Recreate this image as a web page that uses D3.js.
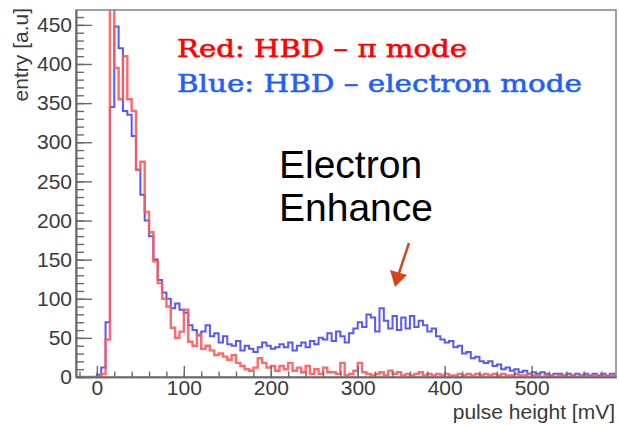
<!DOCTYPE html>
<html>
<head>
<meta charset="utf-8">
<script src="https://cdn.jsdelivr.net/npm/d3@7"></script>
<style>
  body { margin: 0; background: white; }
</style>
</head>
<body>
<div id="container"></div>
<script>
let w = 619;
let h = 425;

// histogram binning (mV)
let binLow = -25;
let binWidth = 5;

// red: HBD pi mode, one value per 5 mV bin starting at -25
let redVals = [
  0, 0, 0, 0, 0, 0, 4, 48, 520, 395,
  355, 410, 355, 340, 265, 275, 211, 185, 148, 120,
  100, 90, 63, 50, 58, 86, 45, 40, 54, 36,
  40, 34, 28, 30, 26, 22, 28, 18, 14, 10,
  8, 12, 24, 18, 12, 14, 8, 14, 10, 18,
  8, 12, 6, 14, 4, 10, 4, 12, 6, 6,
  4, 18, 2, 4, 8, 18, 6, 4, 2, 4,
  6, 2, 8, 4, 6, 2, 4, 2, 4, 6,
  2, 4, 2, 4, 2, 4, 2, 2, 4, 2,
  4, 2, 4, 2, 4, 2, 4, 2, 4, 2,
  2, 4, 2, 2, 4, 2, 2, 0, 2, 2,
  0, 2, 2, 0, 2, 0, 2, 2, 0, 2,
  0, 2, 0, 2, 0
];

// blue: HBD electron mode
let blueVals = [
  0, 0, 0, 0, 0, 3, 12, 70, 345, 448,
  420, 340, 335, 308, 265, 233, 200, 180, 150, 124,
  108, 100, 88, 94, 86, 82, 66, 60, 53, 58,
  66, 52, 56, 44, 52, 42, 40, 46, 34, 40,
  36, 32, 38, 44, 40, 36, 38, 42, 38, 44,
  34, 40, 44, 38, 46, 42, 50, 48, 56, 46,
  58, 52, 44, 56, 62, 70, 64, 80, 76, 58,
  88, 72, 62, 78, 60, 76, 62, 78, 64, 72,
  66, 58, 62, 52, 48, 44, 46, 38, 40, 30,
  32, 24, 26, 20, 18, 20, 14, 16, 10, 12,
  8, 10, 6, 8, 4, 6, 4, 6, 4, 2,
  4, 4, 2, 4, 2, 4, 2, 4, 2, 4,
  2, 4, 2, 4, 2
];

let yMajor = [0, 50, 100, 150, 200, 250, 300, 350, 400, 450];
let xMajor = [0, 100, 200, 300, 400, 500];

let legendLines = ["Red: HBD \u2013 \u03c0 mode", "Blue: HBD \u2013 electron mode"];
let noteLines = ["Electron", "Enhance"];

let frame = { left: 76, right: 616, top: 10, bottom: 377 };

let viz = d3.select("#container")
  .append("svg")
    .attr("width", w)
    .attr("height", h)
    .style("background-color", "white")
;

let xScale = d3.scaleLinear().domain([-24, 597]).range([frame.left, frame.right]);
let yScale = d3.scaleLinear().domain([0, 469]).range([frame.bottom, frame.top]);

viz.append("clipPath").attr("id", "frameclip")
  .append("rect")
    .attr("x", frame.left)
    .attr("y", frame.top)
    .attr("width", frame.right - frame.left)
    .attr("height", frame.bottom - frame.top)
;

// turn bins into step points (left edge of each bin + closing edge)
function stepPoints(vals){
  let pts = vals.map(function(v, i){
    return [binLow + i * binWidth, v];
  });
  pts.push([binLow + vals.length * binWidth, vals[vals.length - 1]]);
  return pts;
}

let histLine = d3.line()
  .x(function(d){ return xScale(d[0]); })
  .y(function(d){ return yScale(d[1]); })
  .curve(d3.curveStepAfter)
;

let hists = viz.append("g").attr("clip-path", "url(#frameclip)");

hists.append("path")
  .attr("d", histLine(stepPoints(blueVals)))
  .attr("fill", "none")
  .attr("stroke", "#5858ff")
  .attr("stroke-width", 2)
;

hists.append("path")
  .attr("d", histLine(stepPoints(redVals)))
  .attr("fill", "none")
  .attr("stroke", "#ff5a5a")
  .attr("stroke-opacity", 0.9)
  .attr("stroke-width", 2.4)
;

// frame
viz.append("rect")
  .attr("x", frame.left)
  .attr("y", frame.top)
  .attr("width", frame.right - frame.left)
  .attr("height", frame.bottom - frame.top)
  .attr("fill", "none")
  .attr("stroke", "#8a8a8a")
  .attr("stroke-width", 1.6)
;

// y axis, ticks pointing inwards like ROOT
let yAxis = d3.axisLeft(yScale)
  .tickValues(yMajor)
  .tickSizeInner(-16)
  .tickSizeOuter(0)
  .tickPadding(4)
;
let yMinor = d3.axisLeft(yScale)
  .tickValues(d3.range(0, 470, 10))
  .tickSizeInner(-8)
  .tickSizeOuter(0)
  .tickFormat("")
;
viz.append("g").attr("transform", "translate(" + frame.left + ",0)").call(yAxis);
viz.append("g").attr("transform", "translate(" + frame.left + ",0)").call(yMinor);

let xAxis = d3.axisBottom(xScale)
  .tickValues(xMajor)
  .tickSizeInner(-11)
  .tickSizeOuter(0)
  .tickPadding(3)
;
let xMinor = d3.axisBottom(xScale)
  .tickValues(d3.range(-20, 600, 20))
  .tickSizeInner(-5.5)
  .tickSizeOuter(0)
  .tickFormat("")
;
viz.append("g").attr("transform", "translate(0," + frame.bottom + ")").call(xAxis);
viz.append("g").attr("transform", "translate(0," + frame.bottom + ")").call(xMinor);

viz.selectAll(".domain").attr("stroke", "#6a6a6a").attr("stroke-width", 1.6);
viz.selectAll(".tick line").attr("stroke", "#6a6a6a").attr("stroke-width", 1.4);
viz.selectAll(".tick text")
  .attr("fill", "#3a3a3a")
  .style("font-family", "'Liberation Sans', Arial, sans-serif")
  .style("font-size", "21px")
;

// axis titles
viz.append("text")
  .attr("transform", "translate(28,8) rotate(-90)")
  .attr("text-anchor", "end")
  .attr("fill", "#3a3a3a")
  .style("font-family", "'Liberation Sans', Arial, sans-serif")
  .style("font-size", "21px")
  .text("entry [a.u]")
;

viz.append("text")
  .attr("x", 615)
  .attr("y", 419)
  .attr("text-anchor", "end")
  .attr("fill", "#3a3a3a")
  .style("font-family", "'Liberation Sans', Arial, sans-serif")
  .style("font-size", "21px")
  .text("pulse height [mV]")
;

// legend text (slab-ish serif, a touch heavier than regular)
let legendColors = ["#ff0000", "#1f5fff"];
let legendLengths = [290, 405];
viz.selectAll(".legend").data(legendLines).enter()
  .append("text")
    .attr("class", "legend")
    .attr("x", 177)
    .attr("y", function(d, i){ return 57 + i * 35; })
    .attr("fill", function(d, i){ return legendColors[i]; })
    .attr("stroke", function(d, i){ return legendColors[i]; })
    .attr("stroke-width", 0.6)
    .attr("textLength", function(d, i){ return legendLengths[i]; })
    .attr("lengthAdjust", "spacingAndGlyphs")
    .style("font-family", "'DejaVu Serif', serif")
    .style("font-size", "25px")
    .text(function(d){ return d; })
;

// annotation
viz.selectAll(".note").data(noteLines).enter()
  .append("text")
    .attr("class", "note")
    .attr("x", 279)
    .attr("y", function(d, i){ return 178 + i * 43; })
    .attr("fill", "black")
    .style("font-family", "'Liberation Sans', Arial, sans-serif")
    .style("font-size", "39px")
    .text(function(d){ return d; })
;

// arrow pointing at the electron bump
let arrowColor = "#d4461c";
viz.append("line")
  .attr("x1", 409).attr("y1", 243)
  .attr("x2", 399).attr("y2", 273)
  .attr("stroke", arrowColor)
  .attr("stroke-width", 2.5)
;
viz.append("path")
  .attr("d", "M390,270 L407,275 L395,287 Z")
  .attr("fill", arrowColor)
;
</script>
</body>
</html>
